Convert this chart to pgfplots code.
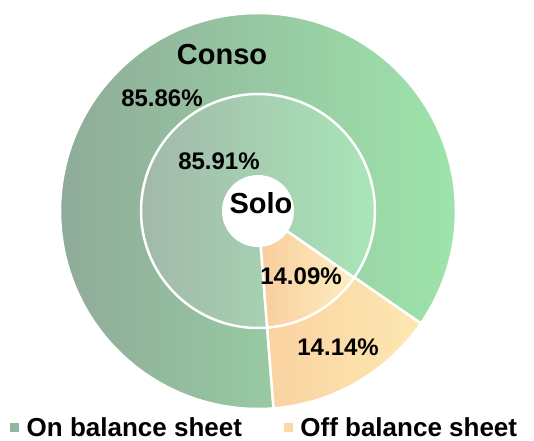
\documentclass[border=0pt]{standalone}
\usepackage{pgfplots}
\pgfplotsset{compat=1.18}
\usepackage{pgfplotstable}
\usepgfplotslibrary{polar}
\usepackage{fontspec}
\setmainfont{Liberation Sans}

\definecolor{onL}{HTML}{8FAB99}
\definecolor{onR}{HTML}{9EE4AB}
\definecolor{inL}{HTML}{A2B8AA}
\definecolor{inR}{HTML}{A9E6B8}
\definecolor{offL}{HTML}{F9D1A0}
\definecolor{offR}{HTML}{FDE8B2}
\definecolor{ioffL}{HTML}{F8CC9C}
\definecolor{ioffR}{HTML}{FEEFC0}
\definecolor{legOn}{HTML}{90B8A0}
\definecolor{legOff}{HTML}{FCD8A8}

\pgfplotstableread{
ring on off
Conso 85.86 14.14
Solo 85.91 14.09
}\shares

\begin{document}
\begin{tikzpicture}
\pgfplotstablegetelem{0}{on}\of\shares \let\cOn\pgfplotsretval
\pgfplotstablegetelem{0}{off}\of\shares \let\cOff\pgfplotsretval
\pgfplotstablegetelem{1}{on}\of\shares \let\sOn\pgfplotsretval
\pgfplotstablegetelem{1}{off}\of\shares \let\sOff\pgfplotsretval
\pgfmathsetmacro{\rot}{-85.5}
\pgfmathsetmacro{\cA}{\rot+3.6*\cOff}
\pgfmathsetmacro{\cB}{\cA+3.6*\cOn}
\pgfmathsetmacro{\sA}{\rot+3.6*\sOff}
\pgfmathsetmacro{\sB}{\sA+3.6*\sOn}
\begin{polaraxis}[
  name=pie, hide axis, scale only axis, width=396pt, height=396pt,
  ymin=0, ymax=198, xmin=0, xmax=360, clip=false, samples=150,
  legend style={at={(-0.126,-0.047)}, anchor=west, draw=none, fill=none,
    inner sep=0pt, legend columns=2,
    font=\bfseries\fontsize{26}{30}\selectfont,
    /tikz/every odd column/.append style={column sep=8pt},
    /tikz/every even column/.append style={column sep=42pt},
    nodes={inner sep=0pt}},
  legend cell align=left,
]
% outer ring (Conso)
\addplot[forget plot, left color=onL, right color=onR, draw=white, line width=2.5pt, domain=\cA:\cB] {198} -- (axis cs:0,0) -- cycle;
\addplot[forget plot, left color=offL, right color=offR, draw=white, line width=2.5pt, domain=\rot:\cA] {198} -- (axis cs:0,0) -- cycle;
% inner ring (Solo)
\addplot[forget plot, left color=inL, right color=inR, draw=white, line width=2.5pt, domain=\sA:\sB] {117} -- (axis cs:0,0) -- cycle;
\addplot[forget plot, left color=ioffL, right color=ioffR, draw=white, line width=2.5pt, domain=\rot:\sA] {117} -- (axis cs:0,0) -- cycle;
% hole
\addplot[forget plot, fill=white, draw=none, domain=0:360] {36} -- cycle;

\addlegendimage{legend image code/.code={\fill[legOn] (0pt,-4pt) rectangle (8pt,4pt);}}
\addlegendentry{On balance sheet}
\addlegendimage{legend image code/.code={\fill[legOff] (0pt,-4pt) rectangle (8pt,4pt);}}
\addlegendentry{Off balance sheet}

\node[font=\bfseries\fontsize{29}{34}\selectfont] at (axis cs:102.9,161) {Conso};
\node[font=\bfseries\fontsize{29}{34}\selectfont] at (axis cs:69.4,8.5) {Solo};
\node[font=\bfseries\fontsize{24}{28}\selectfont] at (axis cs:130.35,148.3) {85.86\%};
\node[font=\bfseries\fontsize{24}{28}\selectfont] at (axis cs:128.0,63.4) {85.91\%};
\node[font=\bfseries\fontsize{24}{28}\selectfont] at (axis cs:-56.5,77.9) {14.09\%};
\node[font=\bfseries\fontsize{24}{28}\selectfont] at (axis cs:-59.5,157.8) {14.14\%};
\end{polaraxis}
\pgfresetboundingbox
\path ([xshift=-258pt,yshift=211pt]pie.center) rectangle ++(534pt,-440pt);
\end{tikzpicture}
\end{document}
